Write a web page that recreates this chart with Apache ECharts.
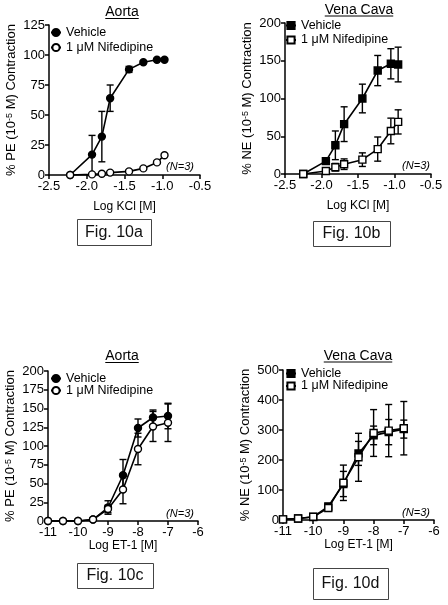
<!DOCTYPE html>
<html><head><meta charset="utf-8">
<script src="https://cdn.jsdelivr.net/npm/echarts@6/dist/echarts.min.js"></script>
<style>html,body{margin:0;padding:0;background:#fff}#c{width:448px;height:605px}</style>
</head><body><div id="c"></div>
<script>
const FONT = 'Liberation Sans, Arial, Helvetica, sans-serif';

// ---- Panel a: Aorta, KCl ----
const kclA = [-2.22, -1.93, -1.80, -1.69, -1.44, -1.25, -1.07, -0.97];
const aVehicle = [0, 17, 32, 64, 88, 94, 96, 96];
const aVehicleErr = [0, 16, 21, 11, 2.5, 1, 1, 1];
const aNif = [0, 0.5, 1, 2, 3, 5.5, 10.5, 16.5];
const aNifErr = [0, 0.5, 0.5, 1, 1, 1, 1, 1];

// ---- Panel b: Vena Cava, KCl ----
const kclB = [-2.25, -1.94, -1.81, -1.69, -1.44, -1.23, -1.05, -0.95];
const bVehicle = [0, 17, 38, 66, 100, 137, 146, 145];
const bVehicleErr = [0, 4, 19, 23, 19, 20, 20, 23];
const bNif = [0, 4, 9, 13, 19, 33, 57, 69];
const bNifErr = [0, 2, 5, 7, 9, 16, 17, 16];

// ---- Panels c, d: ET-1 ----
const et1 = [-11, -10.5, -10, -9.5, -9, -8.5, -8, -7.5, -7];
const cVehicle = [0, 0, 0, 2, 18, 61, 124, 138, 140];
const cVehicleErr = [0, 0, 0, 1, 9, 21, 12, 10, 17];
const cNif = [0, 0, 0, 2, 16, 42, 96, 126, 131];
const cNifErr = [0, 0, 0, 1, 5, 19, 21, 20, 25];
const dVehicle = [2, 5, 10, 45, 120, 222, 282, 293, 303];
const dVehicleErr = [2, 3, 4, 10, 42, 40, 31, 42, 30];
const dNif = [2, 5, 11, 40, 124, 209, 290, 298, 306];
const dNifErr = [2, 3, 4, 6, 59, 80, 78, 87, 89];

// ---- Text ----
const legendNames = ['Vehicle', '1 μM Nifedipine'];
const panelTitles = ['Aorta', 'Vena Cava', 'Aorta', 'Vena Cava'];
const xNames = ['Log KCl [M]', 'Log KCl [M]', 'Log ET-1 [M]', 'Log ET-1 [M]'];
const yNames = ['% PE (10{sup|-5} M) Contraction', '% NE (10{sup|-5} M) Contraction',
                '% PE (10{sup|-5} M) Contraction', '% NE (10{sup|-5} M) Contraction'];
const figLabels = ['Fig. 10a', 'Fig. 10b', 'Fig. 10c', 'Fig. 10d'];
const nLabel = '(N=3)';

// ---- Axis scales ----
const xMin = [-2.5, -2.5, -11, -11], xMax = [-0.5, -0.5, -6, -6], xInt = [0.5, 0.5, 1, 1];
const yMax = [125, 200, 200, 500], yInt = [25, 50, 25, 100];

// ---- Layout ----
const grids = [
  {left: 49, top: 25, width: 151, height: 150},
  {left: 285, top: 23, width: 146, height: 151},
  {left: 48, top: 371, width: 150, height: 150},
  {left: 283, top: 370, width: 151, height: 150}
];
const xNameGap = [26, 26, 18, 18];
const yNameGap = [31, 31, 31, 31];

const panels = [
  {id: 'a', xs: kclA, v: aVehicle, ve: aVehicleErr, n: aNif, ne: aNifErr, sym: 'circle'},
  {id: 'b', xs: kclB, v: bVehicle, ve: bVehicleErr, n: bNif, ne: bNifErr, sym: 'rect'},
  {id: 'c', xs: et1, v: cVehicle, ve: cVehicleErr, n: cNif, ne: cNifErr, sym: 'circle'},
  {id: 'd', xs: et1, v: dVehicle, ve: dVehicleErr, n: dNif, ne: dNifErr, sym: 'rect'}
];

function errRender(params, api) {
  const x = api.value(0), lo = api.value(1), hi = api.value(2);
  const pLo = api.coord([x, lo]), pHi = api.coord([x, hi]);
  const w = 3.5;
  const st = {stroke: '#000', lineWidth: 1.4};
  return {type: 'group', children: [
    {type: 'line', shape: {x1: pHi[0], y1: pHi[1], x2: pLo[0], y2: pLo[1]}, style: st},
    {type: 'line', shape: {x1: pHi[0] - w, y1: pHi[1], x2: pHi[0] + w, y2: pHi[1]}, style: st},
    {type: 'line', shape: {x1: pLo[0] - w, y1: pLo[1], x2: pLo[0] + w, y2: pLo[1]}, style: st}
  ]};
}

const series = [];
panels.forEach((p, i) => {
  [[p.v, p.ve, true, 0], [p.n, p.ne, false, 1]].forEach(([ys, es, filled, k]) => {
    series.push({
      type: 'custom', xAxisIndex: i, yAxisIndex: i, renderItem: errRender, z: 1, clip: false,
      silent: true, animation: false,
      data: p.xs.map((x, j) => [x, ys[j] - es[j], ys[j] + es[j]]).filter((d, j) => es[j] > 0),
      encode: {x: 0, y: [1, 2]}
    });
    series.push({
      type: 'line', name: p.id + '|' + legendNames[k], xAxisIndex: i, yAxisIndex: i,
      data: p.xs.map((x, j) => [x, ys[j]]), symbol: p.sym, symbolSize: 7, showSymbol: true,
      clip: false, z: 3 + k, animation: false, emphasis: {disabled: true},
      lineStyle: {color: '#000', width: 1.6},
      itemStyle: {color: filled ? '#000' : '#fff', borderColor: '#000', borderWidth: 1.4}
    });
  });
});

const axisCommon = {
  axisLine: {show: true, onZero: false, lineStyle: {color: '#000', width: 1.5}},
  axisTick: {show: true, length: 4, lineStyle: {color: '#000', width: 1.5}},
  splitLine: {show: false}
};

const xAxes = grids.map((g, i) => Object.assign({}, axisCommon, {
  type: 'value', gridIndex: i, min: xMin[i], max: xMax[i], interval: xInt[i],
  axisLabel: {color: '#000', fontSize: 13, fontFamily: FONT, margin: 5,
    formatter: v => i < 2 ? v.toFixed(1) : String(v)},
  name: xNames[i], nameLocation: 'middle', nameGap: xNameGap[i],
  nameTextStyle: {color: '#000', fontSize: 12, fontFamily: FONT}
}));
const yAxes = grids.map((g, i) => Object.assign({}, axisCommon, {
  type: 'value', gridIndex: i, min: 0, max: yMax[i], interval: yInt[i],
  axisLabel: {color: '#000', fontSize: 13, fontFamily: FONT, margin: 4},
  name: yNames[i], nameLocation: 'middle', nameGap: yNameGap[i],
  nameTextStyle: {color: '#000', fontSize: 13, fontFamily: FONT,
    rich: {sup: {fontSize: 9, fontFamily: FONT, color: '#000', verticalAlign: 'top'}}}
}));

const legendPos = [
  {left: 50, top: 26, itemGap: 2},
  {left: 285, top: 19, itemGap: 1.5},
  {left: 50, top: 372, itemGap: -1},
  {left: 285, top: 367, itemGap: -0.5}
];
const legends = panels.map((p, i) => ({
  orient: 'vertical', left: legendPos[i].left, top: legendPos[i].top, itemGap: legendPos[i].itemGap,
  itemWidth: 10, itemHeight: 9, padding: 0, selectedMode: false,
  data: legendNames.map(n => p.id + '|' + n),
  formatter: n => n.split('|')[1],
  textStyle: {color: '#000', fontSize: 12.5, fontFamily: FONT}
}));

// measure text width for underline
const ctx = document.createElement('canvas').getContext('2d');
function tw(text, font) { ctx.font = font; return ctx.measureText(text).width; }

const titlePos = [[122, 12.5], [359, 10], [122, 356.5], [358, 356]];
const nPos = [[180, 167], [416, 166], [180, 514], [416, 513]];
const figBoxes = [[77, 219, 74, 26], [313, 221, 77, 25], [77, 563, 76, 25], [313, 568, 75, 31]];

const graphics = [];
panelTitles.forEach((t, i) => {
  const [cx, cy] = titlePos[i];
  const font = '14px ' + FONT;
  const w = tw(t, font);
  graphics.push({type: 'text', x: cx, y: cy, style: {text: t, font: font, fill: '#000', align: 'center', verticalAlign: 'middle'}});
  graphics.push({type: 'line', shape: {x1: cx - w / 2, y1: cy + 6, x2: cx + w / 2, y2: cy + 6}, style: {stroke: '#000', lineWidth: 1}});
});
nPos.forEach(([x, y]) => {
  graphics.push({type: 'text', x: x, y: y, style: {text: nLabel, font: 'italic 11px ' + FONT, fill: '#000', align: 'center', verticalAlign: 'middle'}});
});
figBoxes.forEach(([x, y, w, h], i) => {
  graphics.push({type: 'rect', shape: {x: x + 0.5, y: y + 0.5, width: w, height: h}, style: {fill: 'none', stroke: '#444', lineWidth: 1}});
  graphics.push({type: 'text', x: x + w / 2, y: y + h / 2 + 0.5, style: {text: figLabels[i], font: '16px ' + FONT, fill: '#111', align: 'center', verticalAlign: 'middle'}});
});

const chart = echarts.init(document.getElementById('c'), null, {renderer: 'canvas'});
chart.setOption({
  backgroundColor: '#fff',
  animation: false,
  grid: grids.map(g => Object.assign({containLabel: false, outerBoundsMode: 'none'}, g)),
  xAxis: xAxes,
  yAxis: yAxes,
  legend: legends,
  series: series,
  graphic: graphics
});
</script>
</body></html>
